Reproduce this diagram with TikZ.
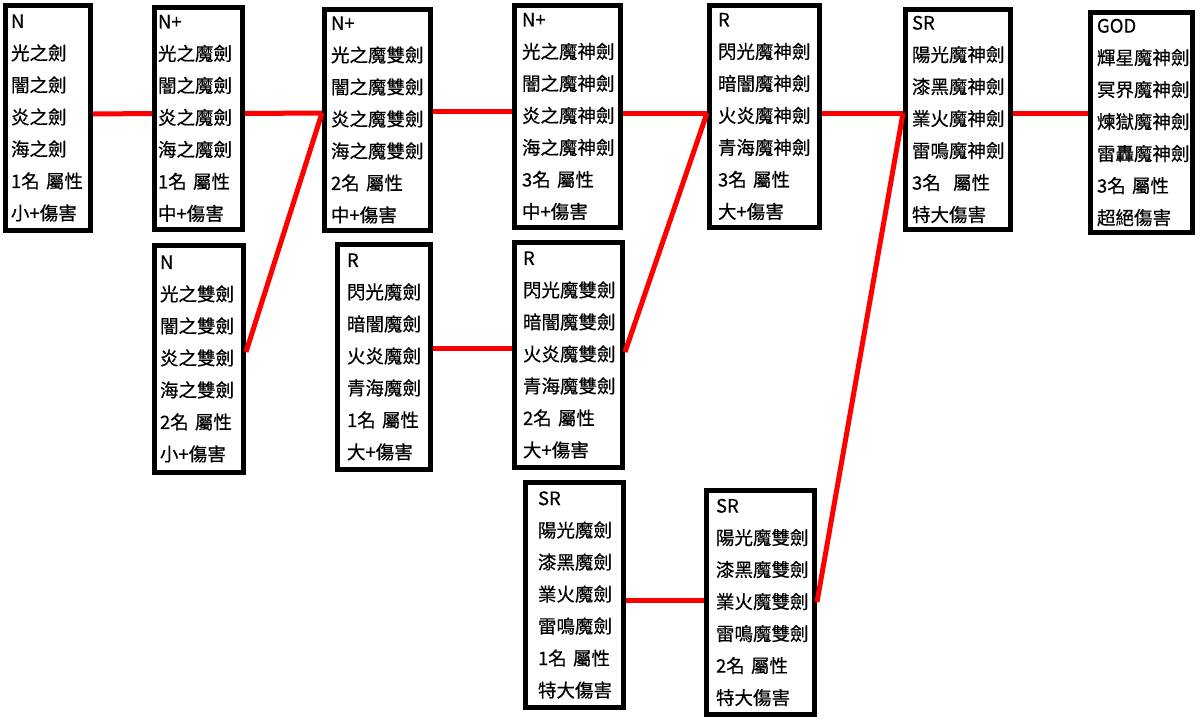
\documentclass[tikz,border=0pt]{standalone}
\usepackage{fontspec}
\newfontfamily\cjkfont[FakeBold=0.5]{Noto Sans CJK TC}
\tikzset{
	card/.style={draw=black, line width=5pt, fill=white, align=left, inner ysep=0pt, font=\cjkfont\fontsize{18.5}{32}\selectfont},
	link/.style={draw=red, line width=5pt},
}

\begin{document}
\begin{tikzpicture}[x=1pt, y=-1pt]
		%%%%% START %%%%%
		\useasboundingbox (0, 0) rectangle (1203, 726);
		
		\node[card, text width=74pt, inner xsep=5.5pt, minimum height=225pt] (nSword) at (48, 118) {N\\光之劍\\闇之劍\\炎之劍\\海之劍\\1名~屬性\\小+傷害};
		
		\node[card, text width=81pt, inner xsep=3.5pt, minimum height=222pt] (nMagic) at (198.5, 118.5) {N+\\光之魔劍\\闇之魔劍\\炎之魔劍\\海之魔劍\\1名~屬性\\中+傷害};
		\node[card, text width=78pt, inner xsep=5.5pt, minimum height=227pt] (nTwin) at (199, 359) {N\\光之雙劍\\闇之雙劍\\炎之雙劍\\海之雙劍\\2名~屬性\\小+傷害};
		
		\node[card, text width=93pt, inner xsep=6.5pt, minimum height=221pt] (nMagicTwin) at (377.5, 120) {N+\\光之魔雙劍\\闇之魔雙劍\\炎之魔雙劍\\海之魔雙劍\\2名~屬性\\中+傷害};
		\node[card, text width=74pt, inner xsep=9.5pt, minimum height=225pt] (rMagic) at (384, 357) {R\\閃光魔劍\\暗闇魔劍\\火炎魔劍\\青海魔劍\\1名~屬性\\大+傷害};
		
		\node[card, text width=91pt, inner xsep=7.5pt, minimum height=222pt] (nDivine) at (567.5, 116.5) {N+\\光之魔神劍\\闇之魔神劍\\炎之魔神劍\\海之魔神劍\\3名~屬性\\中+傷害};
		\node[card, text width=91pt, inner xsep=8.5pt, minimum height=225pt] (rMagicTwin) at (568.5, 355) {R\\閃光魔雙劍\\暗闇魔雙劍\\火炎魔雙劍\\青海魔雙劍\\2名~屬性\\大+傷害};
		\node[card, text width=73pt, inner xsep=12.5pt, minimum height=225pt] (srMagic) at (574.5, 595) {SR\\陽光魔劍\\漆黑魔劍\\業火魔劍\\雷鳴魔劍\\1名~屬性\\特大傷害};
		
		\node[card, text width=93pt, inner xsep=8.5pt, minimum height=222pt] (rDivine) at (764.5, 116.5) {R\\閃光魔神劍\\暗闇魔神劍\\火炎魔神劍\\青海魔神劍\\3名~屬性\\大+傷害};
		\node[card, text width=89pt, inner xsep=9.5pt, minimum height=224pt] (srMagicTwin) at (760.5, 602.5) {SR\\陽光魔雙劍\\漆黑魔雙劍\\業火魔雙劍\\雷鳴魔雙劍\\2名~屬性\\特大傷害};
		
		\node[card, text width=92pt, inner xsep=6.5pt, minimum height=220pt] (srDivine) at (958, 119.5) {SR\\陽光魔神劍\\漆黑魔神劍\\業火魔神劍\\雷鳴魔神劍\\3名~~屬性\\特大傷害};
		
		\node[card, text width=89pt, inner xsep=6.5pt, minimum height=220pt] (god) at (1141.5, 122.5) {GOD\\輝星魔神劍\\冥界魔神劍\\煉獄魔神劍\\雷轟魔神劍\\3名~屬性\\超絕傷害};
		
		\draw[link] ([yshift=4]nSword.east) -- ([yshift=5]nMagic.west);
		\draw[link] ([yshift=5]nMagic.east) -- ([yshift=7]nMagicTwin.west);
		\draw[link] ([yshift=7]nTwin.east) -- ([yshift=7]nMagicTwin.west);
		\draw[link] ([yshift=9]nMagicTwin.east) -- ([yshift=5.5]nDivine.west);
		\draw[link] ([yshift=9]rMagic.east) -- ([yshift=7]rMagicTwin.west);
		\draw[link] ([yshift=3.5]nDivine.east) -- ([yshift=3.5]rDivine.west);
		\draw[link] ([yshift=3]rMagicTwin.east) -- ([yshift=3.5]rDivine.west);
		\draw[link] ([yshift=-5]srMagic.east) -- ([yshift=2.5]srMagicTwin.west);
		\draw[link] ([yshift=3.5]rDivine.east) -- ([yshift=6.5]srDivine.west);
		\draw[link] ([yshift=0.5]srMagicTwin.east) -- ([yshift=6.5]srDivine.west);
		\draw[link] ([yshift=6.5]srDivine.east) -- ([yshift=9.5]god.west);
		
		%%%%% END %%%%%
\end{tikzpicture}
\end{document}
